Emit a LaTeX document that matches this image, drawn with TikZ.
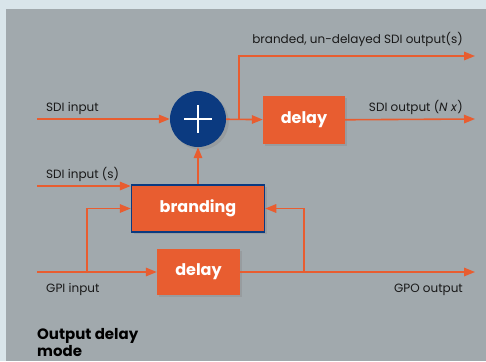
\documentclass[tikz,border=0pt]{standalone}
\usepackage{fontspec}
\setmainfont{Poppins}
\usetikzlibrary{arrows.meta, positioning, shadows}
\definecolor{panelgray}{HTML}{A1A9AD}
\definecolor{outerblue}{HTML}{D9E5EA}
\definecolor{sigorange}{HTML}{E85D30}
\definecolor{sumblue}{HTML}{0B3A80}
\tikzset{
  sig/.style={draw=sigorange, line width=1.6pt, -{Triangle[length=11pt,width=8.5pt]}},
  procbox/.style={fill=sigorange, font=\bfseries\fontsize{16}{16}\selectfont, text=white,
    drop shadow={opacity=0.3, shadow xshift=2pt, shadow yshift=-2pt}},
  lbl/.style={font=\fontsize{12}{13}\selectfont, text=black!90, inner sep=0pt},
}
\begin{document}
\begin{tikzpicture}[x=1pt,y=-1pt]
\fill[outerblue] (0,0) rectangle (486,361);
\fill[panelgray] (6,9) rectangle (486,361);
% blocks
\node[circle, fill=sumblue, minimum size=56pt, drop shadow={opacity=0.3}] (sum) at (198,119) {};
\draw[white, line width=2.2pt] (sum.center) +(-14,0) -- +(14,0) (sum.center) +(0,-14) -- +(0,14);
\node[procbox, minimum width=82pt, minimum height=48pt] (dly) at (304,120) {delay};
\node[procbox, draw=sumblue, line width=1.5pt, minimum width=133pt, minimum height=47pt] (brand) at (198,208.5) {branding};
\node[procbox, minimum width=83pt, minimum height=46pt] (gpidly) at (198.5,272) {delay};
% ends and taps
\coordinate (sdiin) at (37,119);
\coordinate (sdiout) at (475,119);
\coordinate (brout) at (475,56);
\coordinate (tap) at (239,119);
\coordinate (sdisin) at (37,186);
\coordinate (gpiin) at (37,272);
\coordinate (gpoout) at (475,272);
\coordinate (gpitap) at (87,272);
\coordinate (gpotap) at (304,272);
% signals
\draw[sig] (sdiin) -- (sum);
\draw[sig] (sum) -- (dly);
\draw[sig] (tap) |- (brout);
\draw[sig] (dly) -- (sdiout);
\draw[sig] (brand) -- (sum);
\draw[sig] (sdisin) -- (sdisin -| brand.west);
\draw[sig] (gpitap) |- (brand.west);
\draw[sig] (gpotap) |- (brand.east);
\draw[sig] (gpiin) -- (gpidly);
\draw[sig] (gpidly) -- (gpoout);
% labels
\node[lbl, anchor=base east] (lbrout) at (463,44) {branded, un-delayed SDI output(s)};
\node[lbl, anchor=base west] (lsdiin) at (46,111) {SDI input};
\node[lbl, anchor=base east] (lsdiout) at (463,111) {SDI output (\textit{N x})};
\node[lbl, anchor=base west] (lsdisin) at (46,178) {SDI input (s)};
\node[lbl, anchor=base west] (lgpiin) at (46,292) {GPI input};
\node[lbl, anchor=base east] (lgpoout) at (463,292) {GPO output};
\node[anchor=base west, inner sep=0pt, align=left, font=\bfseries\fontsize{15}{15}\selectfont] (title) at (37,356) {Output delay\\mode};
\end{tikzpicture}
\end{document}
